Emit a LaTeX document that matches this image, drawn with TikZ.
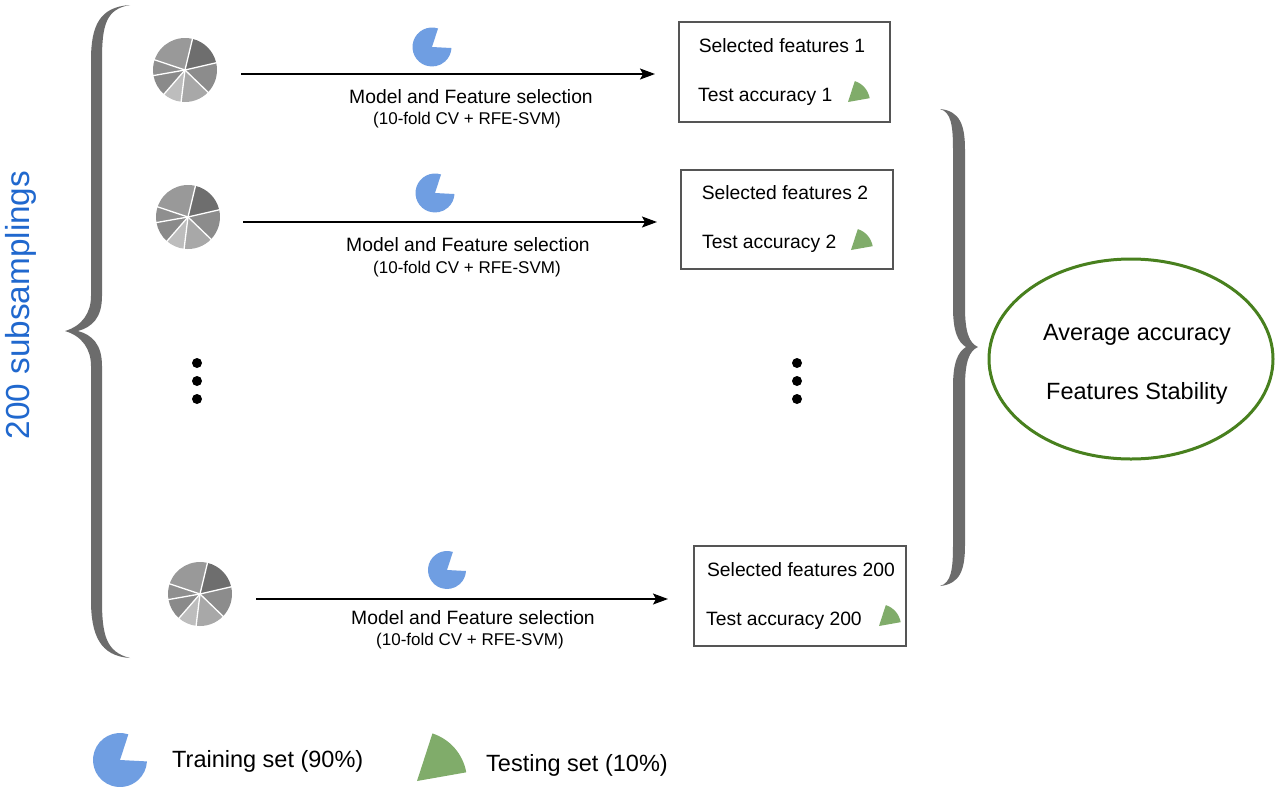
\documentclass[tikz,border=0pt]{standalone}
\usepackage{fontspec}
\setmainfont{Liberation Sans}
\usetikzlibrary{arrows.meta,shapes.geometric}
\definecolor{braceg}{RGB}{108,108,108}
\definecolor{trainblue}{RGB}{111,158,226}
\definecolor{testgreen}{RGB}{128,172,106}
\definecolor{ellgreen}{RGB}{72,128,30}
\definecolor{subblue}{RGB}{32,104,206}
\definecolor{boxline}{RGB}{85,85,85}
\tikzset{
  pie/.pic={
    \begin{scope}[yscale=-1]
      \foreach \a/\b/\p in {13/76.5/57, -44/13/45, -97/-44/34, -131/-97/26, -170/-131/46, -198.5/-170/44, -283.5/-198.5/40}{
        \fill[black!\p] (0,0) -- (\a:1) arc[start angle=\a, end angle=\b, radius=1] -- cycle;
      }
      \foreach \a in {76.5,13,-44,-97,-131,-170,161.5}{
        \draw[white, line width=1.3pt] (0,0) -- (\a:1.03);
      }
    \end{scope}
  },
  pac/.pic={
    \begin{scope}[yscale=-1]
      \fill[trainblue] (0,0) -- (72:1) arc[start angle=72, end angle=357, radius=1] -- cycle;
    \end{scope}
  },
  tw/.pic={
    \begin{scope}[yscale=-1]
      \fill[testgreen] (0,0) -- (10:1) arc[start angle=10, end angle=72, radius=1] -- cycle;
    \end{scope}
  },
  arr/.style={line width=1.4pt, -{Stealth[length=15pt, width=11pt, inset=3pt]}},
  box/.style={draw=boxline, line width=1.3pt, inner sep=0pt},
  lbl/.style={font=\fontsize{19.3}{23}\selectfont, inner sep=0pt},
  sm/.style={font=\fontsize{17}{20}\selectfont, inner sep=0pt},
  big/.style={font=\fontsize{23.5}{28}\selectfont, inner sep=0pt},
  dotm/.style={fill=black},
}
\begin{document}
\begin{tikzpicture}[x=1pt, y=-1pt]
\useasboundingbox (0,0) rectangle (1280,793);
\fill[white] (0,0) rectangle (1280,793);

% side label
\node[font=\fontsize{33.3}{38}\selectfont, text=subblue, rotate=90, inner sep=0pt] (sub) at (21,305) {200 subsamplings};

% left brace
\fill[braceg] (130,5) .. controls (106,9) and (102,25) .. (102,60)
  -- (102,296) .. controls (102,318) and (92,327) .. (78,331)
  .. controls (92,335) and (102,344) .. (102,366)
  -- (102,600) .. controls (102,635) and (106,652) .. (130,658)
  .. controls (100,656) and (91,635) .. (91,600)
  -- (91,366) .. controls (91,349) and (82,336) .. (65,331)
  .. controls (82,326) and (91,313) .. (91,296)
  -- (91,60) .. controls (91,25) and (100,7) .. (130,5) -- cycle;

% right brace
\fill[braceg] (940,109) .. controls (951,112) and (953,125) .. (953,150)
  -- (953,307) .. controls (953,332) and (958,342) .. (966,347)
  .. controls (958,352) and (953,362) .. (953,387)
  -- (953,545) .. controls (953,570) and (951,583) .. (940,586)
  .. controls (960,584) and (965,570) .. (965,545)
  -- (965,387) .. controls (965,362) and (969,351) .. (978,347)
  .. controls (969,343) and (965,332) .. (965,307)
  -- (965,150) .. controls (965,125) and (960,111) .. (940,109) -- cycle;

% ---------- row 1
\pic[scale=32] at (185,70) {pie};
\pic[scale=19.5] at (432,47) {pac};
\coordinate (s1) at (241,74);
\coordinate (e1) at (655,74);
\draw[arr] (s1) -- (e1);
\node[lbl] (m1) at (471,97) {Model and Feature selection};
\node[sm] (c1) at (467,120) {(10-fold CV + RFE-SVM)};
\node[box, minimum width=211pt, minimum height=100pt] (b1) at (784.5,72) {};
\node[lbl] (f1) at (782,46) {Selected features 1};
\node[lbl, anchor=west] (t1) at (698,97) {Test accuracy 1};
\pic[scale=22] at (848,102) {tw};

% ---------- row 2
\pic[scale=32] at (188,217) {pie};
\pic[scale=19.5] at (435,193) {pac};
\coordinate (s2) at (243,222);
\coordinate (e2) at (657,222);
\draw[arr] (s2) -- (e2);
\node[lbl] (m2) at (468,245) {Model and Feature selection};
\node[sm] (c2) at (467,269) {(10-fold CV + RFE-SVM)};
\node[box, minimum width=212pt, minimum height=99pt] (b2) at (787,219.5) {};
\node[lbl] (f2) at (785,193) {Selected features 2};
\node[lbl, anchor=west] (t2) at (702,244) {Test accuracy 2};
\pic[scale=22] at (851,250) {tw};

% ---------- dots
\fill[dotm] (197,363) circle (5);
\fill[dotm] (197,381) circle (5);
\fill[dotm] (197,399) circle (5);
\fill[dotm] (797,363) circle (5);
\fill[dotm] (797,381) circle (5);
\fill[dotm] (797,399) circle (5);

% ---------- row 4
\pic[scale=32] at (200,594) {pie};
\pic[scale=19] at (447,570) {pac};
\coordinate (s4) at (256,599);
\coordinate (e4) at (668,599);
\draw[arr] (s4) -- (e4);
\node[lbl] (m4) at (473,618) {Model and Feature selection};
\node[sm] (c4) at (470,641) {(10-fold CV + RFE-SVM)};
\node[box, minimum width=212pt, minimum height=100pt] (b4) at (800,596) {};
\node[lbl] (f4) at (801,570) {Selected features 200};
\node[lbl, anchor=west] (t4) at (706,621) {Test accuracy 200};
\pic[scale=22] at (879,626) {tw};

% ---------- result ellipse
\node[draw=ellgreen, line width=3pt, ellipse, minimum width=284pt, minimum height=200pt, inner sep=0pt] (res) at (1131,359) {};
\node[big] (avg) at (1137,335) {Average accuracy};
\node[big] (stab) at (1137,393) {Features Stability};

% ---------- legend
\pic[scale=27] at (120,760) {pac};
\node[big, anchor=west] (ltr) at (172,761) {Training set (90\%)};
\pic[scale=50] at (417,781) {tw};
\node[big, anchor=west] (lte) at (486,765) {Testing set (10\%)};
\end{tikzpicture}
\end{document}
